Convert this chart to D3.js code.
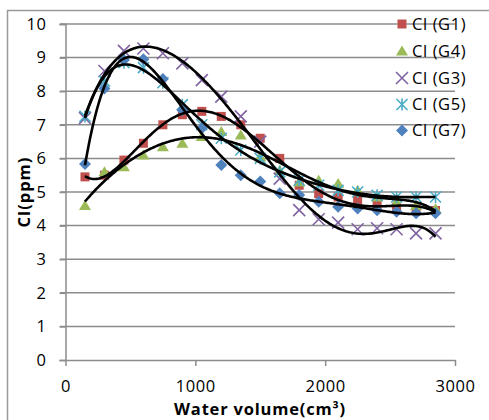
<!DOCTYPE html>
<html>
<head>
<meta charset="utf-8">
<script src="https://cdn.jsdelivr.net/npm/d3@7"></script>
<style>
  html, body { margin: 0; padding: 0; background: #fff; }
  svg { display: block; }
  text { font-family: "Open Sans", "Noto Sans", sans-serif; fill: #000; }
</style>
</head>
<body>
<svg id="chart" width="489" height="420"></svg>
<script>
// Water volume (cm³) at each sampling step
const volume = [150, 300, 450, 600, 750, 900, 1050, 1200, 1350, 1500,
                1650, 1800, 1950, 2100, 2250, 2400, 2550, 2700, 2850];

// Chloride concentration (ppm) for each group
const clG1 = [5.45, 5.5, 5.95, 6.45, 7.0, 7.3, 7.4, 7.25, 7.0, 6.6,
              6.0, 5.2, 4.95, 4.85, 4.75, 4.6, 4.55, 4.5, 4.45];
const clG4 = [4.6, 5.6, 5.75, 6.1, 6.35, 6.45, 6.65, 6.8, 6.7, 6.05,
              5.65, 5.3, 5.35, 5.25, 5.05, 4.85, 4.7, 4.6, 4.5];
const clG3 = [7.2, 8.6, 9.2, 9.27, 9.13, 8.83, 8.33, 7.84, 7.25, 6.5,
              5.4, 4.46, 4.19, 4.09, 3.89, 3.92, 3.89, 3.77, 3.77];
const clG5 = [7.25, 8.3, 8.85, 8.7, 8.25, 7.6, 7.0, 6.6, 6.25, 6.0,
              5.6, 5.35, 5.2, 5.05, 5.0, 4.9, 4.85, 4.85, 4.85];
const clG7 = [5.83, 8.08, 8.93, 8.95, 8.36, 7.44, 6.9, 5.8, 5.5, 5.31,
              4.96, 4.91, 4.71, 4.56, 4.51, 4.46, 4.41, 4.37, 4.37];

const seriesNames = ["Cl (G1)", "Cl (G4)", "Cl (G3)", "Cl (G5)", "Cl (G7)"];
const seriesColors = ["#C0504D", "#9BBB59", "#8064A2", "#4BACC6", "#4F81BD"];
const seriesShapes = ["square", "triangle", "cross", "asterisk", "diamond"];
const seriesValues = [clG1, clG4, clG3, clG5, clG7];

const xTicks = [0, 1000, 2000, 3000];
const yTicks = [0, 1, 2, 3, 4, 5, 6, 7, 8, 9, 10];

const svg = d3.select("#chart");

const x = d3.scaleLinear().domain([0, 3000]).range([65.5, 455]);
const y = d3.scaleLinear().domain([0, 10]).range([360, 24]);

// outer chart border
svg.append("rect")
  .attr("x", 7.5).attr("y", 10.5)
  .attr("width", 495).attr("height", 420)
  .attr("fill", "none").attr("stroke", "#9a9a9a").attr("stroke-width", 1.5);

// horizontal gridlines
svg.append("g")
  .selectAll("line")
  .data(yTicks.slice(1))
  .join("line")
  .attr("x1", 60).attr("x2", x(3000))
  .attr("y1", d => y(d)).attr("y2", d => y(d))
  .attr("stroke", "#8c8c8c").attr("stroke-width", 1.5);

const tickFont = sel => sel
  .attr("font-size", 16.5)
  .attr("font-family", "'Open Sans', sans-serif")
  .attr("letter-spacing", 0.6)
  .attr("fill", "#000");

// y axis
const yAxis = svg.append("g")
  .attr("transform", `translate(${x(0)},0)`)
  .call(d3.axisLeft(y).tickValues(yTicks).tickSize(6).tickPadding(13).tickFormat(d3.format("d")));
yAxis.select(".domain").attr("stroke", "#8c8c8c").attr("stroke-width", 1.5);
yAxis.selectAll(".tick line").attr("stroke", "#8c8c8c").attr("stroke-width", 1.5);
yAxis.selectAll(".tick text").call(tickFont);

// x axis
const xAxis = svg.append("g")
  .attr("transform", `translate(0,${y(0)})`)
  .call(d3.axisBottom(x).tickValues(xTicks).tickSize(6).tickSizeOuter(0).tickPadding(14).tickFormat(d3.format("d")));
xAxis.select(".domain").attr("stroke", "#8c8c8c").attr("stroke-width", 1.5);
xAxis.selectAll(".tick line").attr("stroke", "#8c8c8c").attr("stroke-width", 1.5);
xAxis.selectAll(".tick text").call(tickFont);

// axis titles
svg.append("text")
  .attr("x", 260).attr("y", 415)
  .attr("text-anchor", "middle")
  .attr("font-size", 16.5).attr("font-weight", "bold")
  .attr("letter-spacing", 0.8)
  .text("Water volume(cm³)");

svg.append("text")
  .attr("transform", "translate(30,192) rotate(-90)")
  .attr("text-anchor", "middle")
  .attr("font-size", 16.5).attr("font-weight", "bold")
  .attr("letter-spacing", 1)
  .text("Cl(ppm)");

// marker shapes
function markerPath(shape) {
  switch (shape) {
    case "square": return "M-4.5,-4.5H4.5V4.5H-4.5Z";
    case "triangle": return "M0,-5.5L6,4.5H-6Z";
    case "diamond": return "M0,-6L6,0L0,6L-6,0Z";
    case "cross": return "M-6,-6L6,6M-6,6L6,-6";
    case "asterisk": return "M-5.5,-5.5L5.5,5.5M-5.5,5.5L5.5,-5.5M0,-6V6";
  }
}
function drawMarker(sel, shape, color) {
  const open = shape === "cross" || shape === "asterisk";
  sel.attr("d", markerPath(shape))
    .attr("fill", open ? "none" : color)
    .attr("stroke", open ? color : "none")
    .attr("stroke-width", open ? 1.6 : 0);
}

// data markers
seriesValues.forEach((vals, i) => {
  svg.append("g")
    .selectAll("path")
    .data(vals.map((v, j) => [volume[j], v]))
    .join("path")
    .attr("transform", d => `translate(${x(d[0])},${y(d[1])})`)
    .call(drawMarker, seriesShapes[i], seriesColors[i]);
});

// least-squares polynomial trend (order 6), x normalised to [-1, 1]
function polyFit(xs, ys, order) {
  const n = order + 1;
  const A = Array.from({length: n}, () => new Array(n + 1).fill(0));
  xs.forEach((xv, k) => {
    const p = [];
    for (let i = 0; i < n; i++) p.push(Math.pow(xv, i));
    for (let r = 0; r < n; r++) {
      for (let c = 0; c < n; c++) A[r][c] += p[r] * p[c];
      A[r][n] += p[r] * ys[k];
    }
  });
  for (let col = 0; col < n; col++) {
    let piv = col;
    for (let r = col + 1; r < n; r++) if (Math.abs(A[r][col]) > Math.abs(A[piv][col])) piv = r;
    [A[col], A[piv]] = [A[piv], A[col]];
    for (let r = 0; r < n; r++) {
      if (r === col) continue;
      const f = A[r][col] / A[col][col];
      for (let c = col; c <= n; c++) A[r][c] -= f * A[col][c];
    }
  }
  return A.map((row, i) => row[n] / row[i]);
}
const norm = v => (v - 1500) / 1350;
const line = d3.line().x(d => x(d[0])).y(d => y(d[1])).curve(d3.curveLinear);

seriesValues.forEach(vals => {
  const coef = polyFit(volume.map(norm), vals, 6);
  const pts = d3.range(150, 2851, 10).map(v => {
    const t = norm(v);
    let s = 0;
    for (let i = coef.length - 1; i >= 0; i--) s = s * t + coef[i];
    return [v, s];
  });
  svg.append("path")
    .datum(pts)
    .attr("d", line)
    .attr("fill", "none")
    .attr("stroke", "#000")
    .attr("stroke-width", 2.6)
    .attr("stroke-linejoin", "round");
});

// legend
const legend = svg.append("g");
const legendY = [24, 51, 78, 104.5, 130.5];
seriesNames.forEach((name, i) => {
  const g = legend.append("g").attr("transform", `translate(402,${legendY[i]})`);
  g.append("path").call(drawMarker, seriesShapes[i], seriesColors[i]);
  g.append("text")
    .attr("x", 10).attr("dy", "0.35em")
    .attr("font-size", 16.5)
    .attr("letter-spacing", 0.6)
    .text(name);
});
</script>
</body>
</html>
